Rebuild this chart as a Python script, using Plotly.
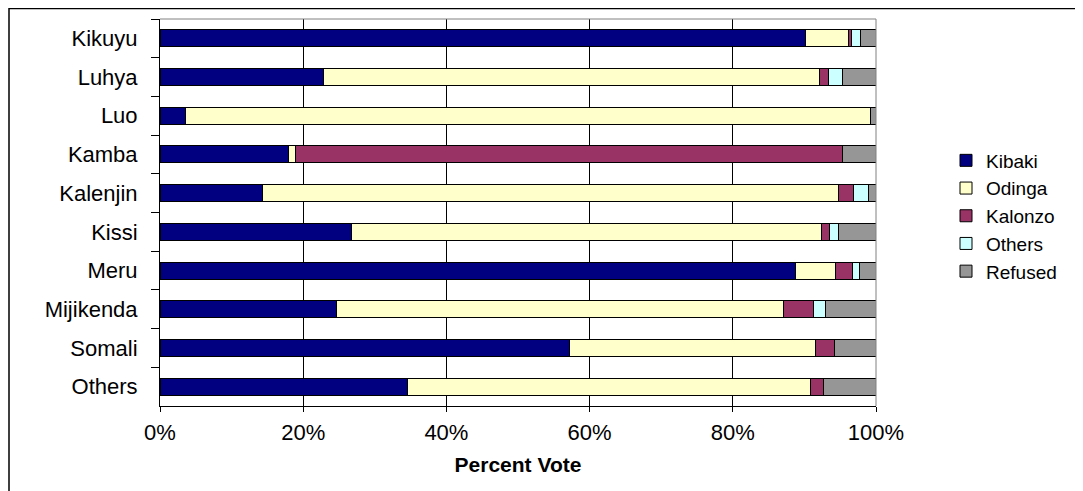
import plotly.graph_objects as go

categories = ["Kikuyu", "Luhya", "Luo", "Kamba", "Kalenjin", "Kissi", "Meru", "Mijikenda", "Somali", "Others"]
kibaki = [90.2, 22.8, 3.6, 18.0, 14.3, 26.8, 88.8, 24.6, 57.2, 34.6]
odinga = [6.0, 69.3, 95.7, 0.9, 80.5, 65.6, 5.6, 62.5, 34.3, 56.2]
kalonzo = [0.4, 1.2, 0.0, 76.4, 2.1, 1.1, 2.3, 4.2, 2.7, 1.8]
others = [1.2, 2.0, 0.0, 0.0, 2.0, 1.2, 1.0, 1.6, 0.0, 0.0]
refused = [2.2, 4.7, 0.7, 4.7, 1.1, 5.3, 2.3, 7.1, 5.8, 7.4]

series = [
    ("Kibaki", kibaki, "#000080"),
    ("Odinga", odinga, "#FFFFCC"),
    ("Kalonzo", kalonzo, "#993366"),
    ("Others", others, "#CCFFFF"),
    ("Refused", refused, "#969696"),
]

FONT = "Liberation Sans, Arial, sans-serif"

fig = go.Figure()
for name, vals, col in series:
    fig.add_trace(go.Bar(
        y=categories, x=vals, name=name, orientation="h",
        marker=dict(color=col, line=dict(color="#000000", width=1)),
    ))

# page body has an 8px margin; figure coordinates are screen - 8
W, H = 1075, 483
L, R, T, B = 152, 207, 11, 85
pw, ph = W - L - R, H - T - B
bottom = H - B

fig.update_layout(
    width=W, height=H,
    margin=dict(l=L, r=R, t=T, b=B, autoexpand=False),
    barmode="stack", bargap=0.56,
    paper_bgcolor="white", plot_bgcolor="white",
    font=dict(family=FONT, size=22, color="#000000"),
    legend=dict(
        x=(938 - L) / pw, y=(bottom - 133.5) / ph, xanchor="left", yanchor="top",
        traceorder="normal", font=dict(size=19, family=FONT),
        itemwidth=30, tracegroupgap=0, bgcolor="rgba(0,0,0,0)",
    ),
    xaxis=dict(
        range=[0, 100], tickvals=[0, 20, 40, 60, 80, 100],
        ticktext=["0%", "20%", "40%", "60%", "80%", "100%"],
        showgrid=True, gridcolor="#000000", gridwidth=1,
        showline=True, linecolor="#000000", linewidth=1,
        ticks="outside", ticklen=5, tickcolor="#000000",
        tickfont=dict(size=22, family=FONT), ticklabelstandoff=2,
        title=dict(text="<b>Percent Vote</b>", font=dict(size=21, family=FONT), standoff=12),
        zeroline=False, fixedrange=True,
    ),
    yaxis=dict(
        autorange="reversed", type="category",
        showline=True, linecolor="#000000", linewidth=1,
        ticks="outside", ticklen=8, tickcolor="#000000", tickson="boundaries",
        tickfont=dict(size=22, family=FONT),
        showgrid=False, ticklabelstandoff=17, fixedrange=True,
    ),
    shapes=[
        dict(type="line", xref="paper", yref="paper", x0=0, x1=1, y0=1, y1=1,
             line=dict(color="#808080", width=1)),
        dict(type="line", xref="paper", yref="paper", x0=1, x1=1, y0=0, y1=1,
             line=dict(color="#808080", width=1)),
        dict(type="rect", xref="paper", yref="paper",
             x0=(1 - L) / pw, x1=2.0, y0=-1.0, y1=(bottom - 0.5) / ph,
             line=dict(color="#000000", width=1.5), fillcolor="rgba(0,0,0,0)"),
    ],
)

fig.write_html("out.html")
